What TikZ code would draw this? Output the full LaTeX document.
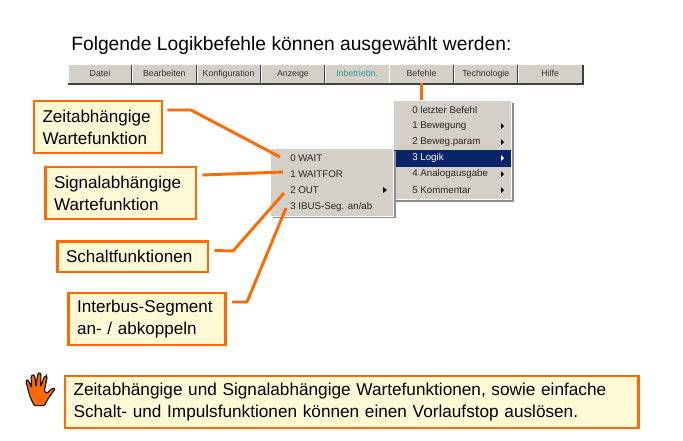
\documentclass[tikz,border=0pt]{standalone}
\usepackage{fontspec}
\setmainfont{Liberation Sans}
\usepackage{xcolor}
\usetikzlibrary{calc}
\definecolor{callout}{RGB}{255,106,0}
\definecolor{calloutbg}{RGB}{255,249,214}
\definecolor{menugrey}{RGB}{212,208,200}
\definecolor{menublue}{RGB}{10,36,106}
\tikzset{
    labelbox/.style={draw=callout, line width=2.1pt, fill=calloutbg, align=left, anchor=north west, inner ysep=0pt, inner xsep=6.5pt, font=\fontsize{12.8pt}{16.5pt}\selectfont},
    wire/.style={draw=callout, line width=2.2pt},
    barbtn/.style={fill=menugrey, minimum width=47.1pt, minimum height=13.8pt, inner sep=0pt, text height=5pt, text depth=1.5pt, font=\fontsize{6.6pt}{7pt}\selectfont, text=black!80},
    entry/.style={anchor=west, inner sep=0pt, font=\fontsize{7.3pt}{8pt}\selectfont, text=black!85},
    arrowtip/.style={fill=black, draw=none}
}
\begin{document}
\begin{tikzpicture}[x=0.75pt,y=-0.75pt]
        \useasboundingbox (0,0) rectangle (683,440);
        % title
        \node[anchor=west, inner sep=0pt, font=\fontsize{14.45pt}{16pt}\selectfont] (title) at (71,46) {Folgende Logikbefehle können ausgewählt werden:};

        % menu bar
        \fill[black!75] (68,65) rectangle (584,84.5);
        \foreach \i/\name/\label in {0/datei/Datei,1/bearb/Bearbeiten,2/konfig/Konfiguration,3/anzeige/Anzeige,5/befehle/Befehle,6/techno/Technologie,7/hilfe/Hilfe}{
            \node[barbtn] (\name) at ({100+\i*64.3},74) {\label};
            \draw[white, line width=0.6pt] (\name.north west) -- (\name.south west);
        }
        \node[barbtn, text=teal!80] (inbetr) at ({100+4*64.3},74) {Inbetriebn.};
        \draw[white, line width=0.6pt] (inbetr.north west) -- (inbetr.south west);

        % menus
        \fill[black!45] (396,103) rectangle (514,201.5);
        \fill[menugrey, draw=white, line width=0.5pt] (393,100) rectangle (511.5,199.5);
        \fill[menublue] (394,150) rectangle (511,166.5);
        \foreach \y/\name/\label in {110/eletzt/0 letzter Befehl,126/ebeweg/1 Bewegung,142/eparam/2 Beweg.param,174/eanalog/4 Analogausgabe,190/ekomm/5 Kommentar}{
            \node[entry] (\name) at (412,\y) {\label};
        }
        \node[entry, text=white] (elogik) at (412,158) {3 Logik};
        \foreach \y in {126,142,174,190}{
            \fill[arrowtip] (501,{\y-3}) -- (504,\y) -- (501,{\y+3}) -- cycle;
        }
        \fill[white] (501,155) -- (504,158) -- (501,161) -- cycle;

        \fill[black!45] (273,151) rectangle (395.5,218);
        \fill[menugrey, draw=white, line width=0.5pt] (270.5,148) rectangle (393,216);
        \foreach \y/\name/\label in {158/ewait/0 WAIT,174/ewaitfor/1 WAITFOR,190/eout/2 OUT,207/eibus/{3 IBUS-Seg. an/ab}}{
            \node[entry] (\name) at (290,\y) {\label};
        }
        \fill[arrowtip] (383,187) -- (387,190) -- (383,193) -- cycle;

        % labels
        \node[labelbox, minimum width=96pt, minimum height=39pt, text width=83pt] (zeit) at (32.5,99.5) {Zeitabhängige\\Wartefunktion};
        \node[labelbox, minimum width=113pt, minimum height=39pt, text width=100pt] (signal) at (44,165.5) {Signalabhängige\\Wartefunktion};
        \node[labelbox, minimum width=113pt, minimum height=23pt, text width=100pt] (schalt) at (56,240) {Schaltfunktionen};
        \node[labelbox, minimum width=118pt, minimum height=39pt, text width=105pt] (ibus) at (67,291.5) {Interbus-Segment\\an- / abkoppeln};
        \node[labelbox, minimum width=430pt, minimum height=39pt, text width=417pt] (hinweis) at (63.5,374.5) {\fontsize{12.9pt}{16.5pt}\selectfont Zeitabhängige und Signalabhängige Wartefunktionen, sowie einfache\\Schalt- und Impulsfunktionen können einen Vorlaufstop auslösen.};

        % connectors
        \coordinate (k1) at (191,110);
        \coordinate (k3) at (233,251);
        \coordinate (k4) at (247,302);
        \draw[wire] ($(zeit.north east)+(4,10.5)$) -- (k1) -- ($(ewait.west)+(-10,-1)$);
        \draw[wire] ($(signal.north east)+(5,9.5)$) -- ($(ewaitfor.west)+(-7,-2)$);
        \draw[wire] ($(schalt.north east)+(5,10.5)$) -- (k3) -- ($(eout.west)+(-6,3)$);
        \draw[wire] ($(ibus.north east)+(5,10.5)$) -- (k4) -- ($(eibus.west)+(-4,1)$);
        \draw[wire] (befehle.south) -- (befehle.south |- 0,100);

        % hand
        \draw[fill=callout, draw=black, line width=0.8pt, rounded corners=0.8pt] (34.3,405.7) -- (30,396.7) -- (26,381.7) -- (27,379.3) -- (29,381.7) -- (31.7,387.7) -- (31,376.7) -- (33,374.3) -- (35,376.7) -- (36,386.7) -- (37.7,374.3) -- (39.3,372.3) -- (41,374.3) -- (40.7,386.7) -- (44.3,376.7) -- (46.3,375.7) -- (47,377.7) -- (44.3,391) -- (46.7,393.3) -- (53.3,387.7) -- (55,389) -- (48.3,398.3) -- (44.3,405.7) -- cycle;
\end{tikzpicture}
\end{document}
